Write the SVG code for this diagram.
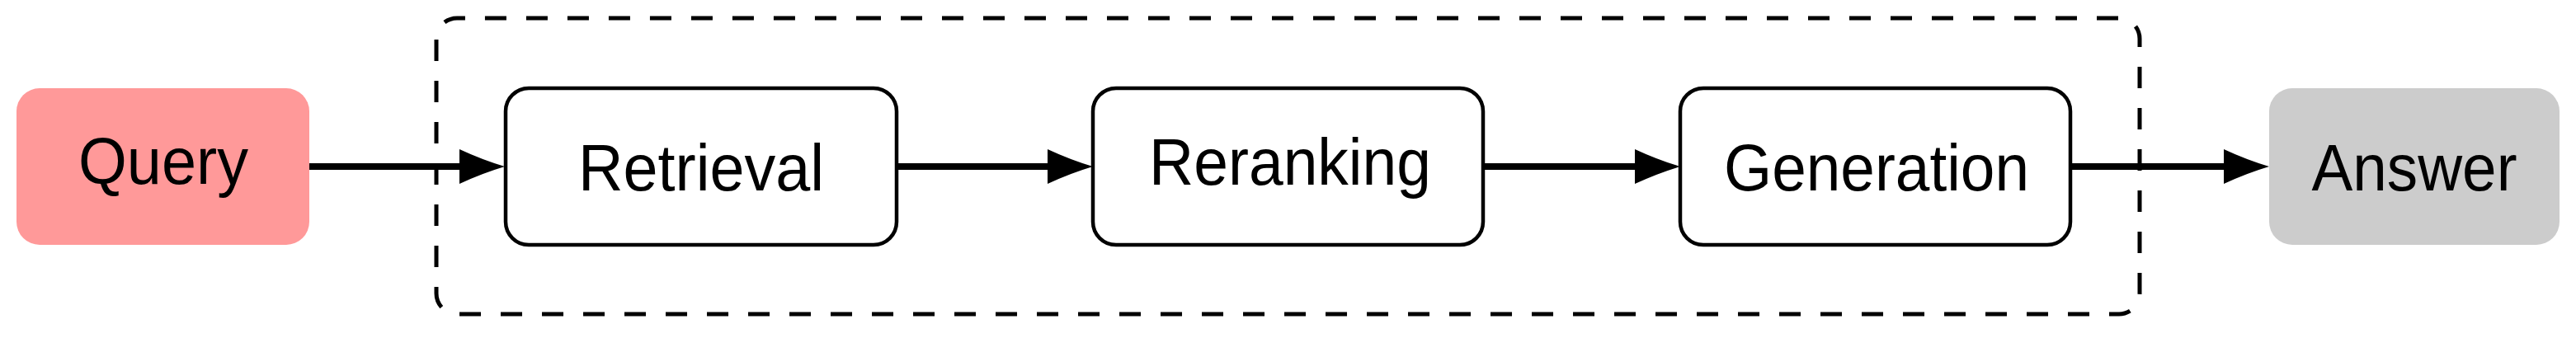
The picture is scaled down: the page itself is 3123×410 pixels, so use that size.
<svg xmlns="http://www.w3.org/2000/svg" width="3123" height="410" viewBox="0 0 3123 410">
  <style>
    .box { fill: #ffffff; stroke: #000000; stroke-width: 4.5; }
    .lbl { font-family: "Liberation Sans", Arial, sans-serif; font-size: 80px; fill: #000000; text-anchor: middle; }
    .edge { stroke: #000000; stroke-width: 8; fill: none; }
    .group { fill: none; stroke: #000000; stroke-width: 5; stroke-dasharray: 26 24; }
  </style>
  <defs>
    <marker id="head" markerUnits="userSpaceOnUse" markerWidth="56" markerHeight="44" viewBox="0 0 56 44" refX="10" refY="22" orient="auto" overflow="visible">
      <path d="M0,1 Q28,14 55,22 Q28,30 0,43 Z" fill="#000000"/>
    </marker>
  </defs>

  <g id="group-box">
    <path class="group" d="M1042,22 H2569 A25,25 0 0 1 2594,47 V356 A25,25 0 0 1 2569,381 H554 A25,25 0 0 1 529,356 V47 A25,25 0 0 1 554,22 Z"/>
  </g>

  <g id="connectors">
    <line class="edge" x1="375" y1="202" x2="567" y2="202" marker-end="url(#head)"/>
    <line class="edge" x1="1087" y1="202" x2="1280" y2="202" marker-end="url(#head)"/>
    <line class="edge" x1="1798" y1="202" x2="1992" y2="202" marker-end="url(#head)"/>
    <line class="edge" x1="2510" y1="202" x2="2706" y2="202" marker-end="url(#head)"/>
  </g>

  <g id="query">
    <rect x="20" y="107" width="355" height="190" rx="28" ry="28" fill="#FF9999"/>
    <text class="lbl" x="198" y="223" textLength="206" lengthAdjust="spacingAndGlyphs">Query</text>
  </g>

  <g id="retrieval">
    <rect class="box" x="613" y="107" width="474" height="190" rx="28" ry="28"/>
    <text class="lbl" x="850" y="231" textLength="298" lengthAdjust="spacingAndGlyphs">Retrieval</text>
  </g>

  <g id="reranking">
    <rect class="box" x="1325" y="107" width="473" height="190" rx="28" ry="28"/>
    <text class="lbl" x="1564" y="224" textLength="342" lengthAdjust="spacingAndGlyphs">Reranking</text>
  </g>

  <g id="generation">
    <rect class="box" x="2037" y="107" width="473" height="190" rx="28" ry="28"/>
    <text class="lbl" x="2275" y="231" textLength="370" lengthAdjust="spacingAndGlyphs">Generation</text>
  </g>

  <g id="answer">
    <rect x="2751" y="107" width="352" height="190" rx="28" ry="28" fill="#CCCCCC"/>
    <text class="lbl" x="2927" y="231" textLength="249" lengthAdjust="spacingAndGlyphs">Answer</text>
  </g>
</svg>
